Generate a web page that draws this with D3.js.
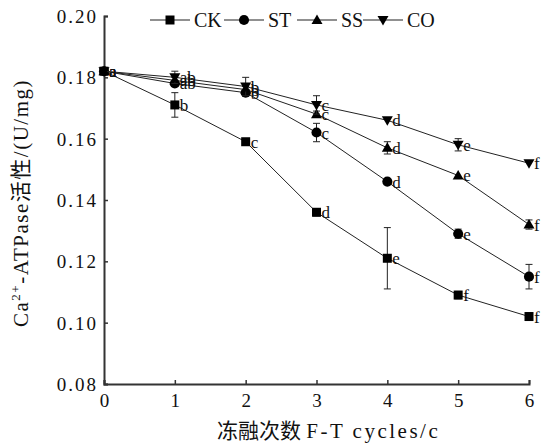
<!DOCTYPE html>
<html>
<head>
  <meta charset="utf-8">
  <script src="https://cdn.jsdelivr.net/npm/d3@7"></script>
  <style>
    body { margin: 0; background: #fff; }
    text { font-family: "Liberation Serif", "Noto Sans CJK SC", serif; fill: #111; }
  </style>
</head>
<body>
<svg width="544" height="446"></svg>
<script>
// freeze-thaw cycles
const cycles = [0, 1, 2, 3, 4, 5, 6];
const yTicks = [0.08, 0.10, 0.12, 0.14, 0.16, 0.18, 0.20];

const ck = [0.182, 0.171, 0.159, 0.136, 0.121, 0.109, 0.102];
const st = [0.182, 0.178, 0.175, 0.162, 0.146, 0.129, 0.115];
const ss = [0.182, 0.179, 0.176, 0.168, 0.157, 0.148, 0.132];
const co = [0.182, 0.180, 0.177, 0.171, 0.166, 0.158, 0.152];

const ckErr = [0.0005, 0.004, 0.0005, 0.0012, 0.010, 0.0012, 0.0012];
const stErr = [0.0005, 0.001, 0.001, 0.003, 0.0005, 0.0015, 0.004];
const ssErr = [0.0005, 0.001, 0.001, 0.001, 0.002, 0.0005, 0.0015];
const coErr = [0.0005, 0.002, 0.003, 0.003, 0.0005, 0.002, 0.0005];

const ckSig = ['a', 'b', 'c', 'd', 'e', 'f', 'f'];
const stSig = ['a', 'ab', 'b', 'c', 'd', 'e', 'f'];
const ssSig = ['a', 'ab', 'b', 'c', 'd', 'e', 'f'];
const coSig = ['a', 'ab', 'b', 'c', 'd', 'e', 'f'];

const series = [
  {name: 'CK', values: ck, err: ckErr, sig: ckSig, symbol: d3.symbolSquare},
  {name: 'ST', values: st, err: stErr, sig: stSig, symbol: d3.symbolCircle},
  {name: 'SS', values: ss, err: ssErr, sig: ssSig, symbol: 'up'},
  {name: 'CO', values: co, err: coErr, sig: coSig, symbol: 'down'}
];

const svg = d3.select('svg');
const mLeft = 104, mTop = 16, mRight = 529, mBottom = 384;

const x = d3.scaleLinear().domain([0, 6]).range([mLeft, mRight]);
const y = d3.scaleLinear().domain([0.08, 0.20]).range([mBottom, mTop]);

// triangle paths
function marker(sel, sym) {
  if (sym === 'up') {
    sel.append('path').attr('d', 'M0,-5.5L5.5,4L-5.5,4Z');
  } else if (sym === 'down') {
    sel.append('path').attr('d', 'M0,5.5L5.5,-4L-5.5,-4Z');
  } else if (sym === d3.symbolSquare) {
    sel.append('path').attr('d', d3.symbol().type(sym).size(81)());
  } else {
    sel.append('path').attr('d', d3.symbol().type(sym).size(80)());
  }
}

// axes
const xAxis = svg.append('g')
  .attr('transform', `translate(0,${mBottom})`)
  .call(d3.axisBottom(x).ticks(6).tickSize(-4).tickPadding(10).tickFormat(d3.format('d')));
const yAxis = svg.append('g')
  .attr('transform', `translate(${mLeft},0)`)
  .call(d3.axisLeft(y).tickValues(yTicks).tickSize(-4).tickPadding(6).tickFormat(d3.format('.2f')));

[xAxis, yAxis].forEach(a => {
  a.select('.domain').attr('stroke', '#333').attr('stroke-width', 2);
  a.selectAll('.tick line').attr('stroke', '#333').attr('stroke-width', 1.5);
  a.selectAll('.tick text').attr('font-size', 19).attr('fill', '#111')
    .style('font-family', '"Liberation Serif", serif');
});
yAxis.selectAll('.tick text').attr('letter-spacing', 2).attr('dy', '0.35em');

const line = d3.line().x((d, i) => x(cycles[i])).y(d => y(d));

series.forEach(s => {
  const g = svg.append('g');
  g.append('path')
    .attr('d', line(s.values))
    .attr('fill', 'none')
    .attr('stroke', '#222')
    .attr('stroke-width', 1);

  // error bars
  s.values.forEach((v, i) => {
    const e = s.err[i];
    if (e < 0.001) return;
    const cx = x(cycles[i]);
    g.append('line').attr('x1', cx).attr('x2', cx)
      .attr('y1', y(v - e)).attr('y2', y(v + e)).attr('stroke', '#222');
    [v - e, v + e].forEach(w => {
      g.append('line').attr('x1', cx - 3.5).attr('x2', cx + 3.5)
        .attr('y1', y(w)).attr('y2', y(w)).attr('stroke', '#222');
    });
  });

  s.values.forEach((v, i) => {
    const m = g.append('g').attr('transform', `translate(${x(cycles[i])},${y(v)})`)
      .attr('fill', '#000');
    marker(m, s.symbol);
    g.append('text')
      .attr('x', x(cycles[i]) + 5)
      .attr('y', y(v) + 6)
      .attr('font-size', 17)
      .text(s.sig[i]);
  });
});

// legend
const legendX = [150, 224, 297, 363];
series.forEach((s, i) => {
  const lg = svg.append('g').attr('transform', `translate(${legendX[i]},20)`);
  lg.append('line').attr('x1', 0).attr('x2', 40).attr('y1', 0).attr('y2', 0)
    .attr('stroke', '#222').attr('stroke-width', 1.2);
  const m = lg.append('g').attr('transform', 'translate(20,0)').attr('fill', '#000');
  marker(m, s.symbol);
  lg.append('text').attr('x', 44).attr('y', 7).attr('font-size', 20).text(s.name);
});

// axis titles
const xt = svg.append('text')
  .attr('x', 217)
  .attr('y', 438)
  .attr('font-size', 21);
xt.append('tspan').text('冻融次数 ');
xt.append('tspan').attr('letter-spacing', 2.5).text('F-T cycles/c');

const yt = svg.append('text')
  .attr('transform', 'translate(28,327) rotate(-90)')
  .attr('font-size', 21)
  .attr('letter-spacing', 1.5);
yt.append('tspan').text('Ca');
yt.append('tspan').attr('font-size', 13).attr('dy', -8).text('2+');
yt.append('tspan').attr('dy', 8).text('-ATPase活性/(U/mg)');
</script>
</body>
</html>
